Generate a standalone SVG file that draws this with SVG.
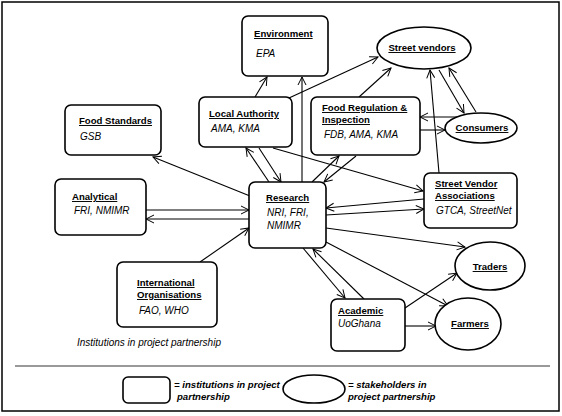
<svg xmlns="http://www.w3.org/2000/svg" width="562" height="416" viewBox="0 0 562 416">
<defs>
<marker id="ah" markerWidth="10" markerHeight="10" refX="9" refY="5" orient="auto" markerUnits="userSpaceOnUse">
<path d="M1,1 L9,5 L1,9" fill="none" stroke="#000" stroke-width="1"/>
</marker>
<style>
.box{fill:#fff;stroke:#000;stroke-width:1.6}
.ell{fill:#fff;stroke:#000;stroke-width:1.6}
.h{font-family:"Liberation Sans",Arial,sans-serif;font-size:9.6px;font-weight:bold;text-decoration:underline;fill:#000}
.it{font-family:"Liberation Sans",Arial,sans-serif;font-size:10px;font-style:italic;fill:#000}
.lg{font-family:"Liberation Sans",Arial,sans-serif;font-size:9.6px;font-style:italic;font-weight:bold;fill:#000}
.c line{stroke:#000;stroke-width:1.1;marker-end:url(#ah)}
</style>
</defs>
<rect x="2" y="2" width="557" height="409" fill="#fff" stroke="#000" stroke-width="1.5"/>

<g id="connectors" class="c">
<line x1="255" y1="97" x2="267" y2="77"/>
<line x1="250" y1="196" x2="153" y2="157"/>
<line x1="146" y1="210" x2="249" y2="210"/>
<line x1="249" y1="219" x2="146" y2="219"/>
<line x1="200" y1="262" x2="249" y2="228"/>
<line x1="269" y1="182" x2="246" y2="148"/>
<line x1="259" y1="148" x2="281" y2="182"/>
<line x1="289" y1="98" x2="378" y2="57"/>
<line x1="273" y1="148" x2="423" y2="191"/>
<line x1="302" y1="182" x2="302" y2="77"/>
<line x1="312" y1="182" x2="339" y2="156"/>
<line x1="356" y1="156" x2="324" y2="182"/>
<line x1="359" y1="97" x2="391" y2="68"/>
<line x1="464" y1="117" x2="420" y2="117"/>
<line x1="420" y1="130" x2="445" y2="130"/>
<line x1="439" y1="70" x2="464" y2="113"/>
<line x1="476" y1="112" x2="449" y2="68"/>
<line x1="439" y1="173" x2="430" y2="70"/>
<line x1="424" y1="199" x2="326" y2="208"/>
<line x1="326" y1="215" x2="424" y2="209"/>
<line x1="326" y1="228" x2="465" y2="247"/>
<line x1="326" y1="242" x2="448" y2="306"/>
<line x1="303" y1="248" x2="345" y2="298"/>
<line x1="364" y1="299" x2="313" y2="249"/>
<line x1="405" y1="308" x2="457" y2="273"/>
<line x1="405" y1="326" x2="436" y2="326"/>
</g>

<g id="environment">
<rect class="box" x="242" y="16" width="86" height="60" rx="6"/>
<text class="h" x="254" y="37">Environment</text>
<text class="it" x="256" y="57">EPA</text>
</g>
<g id="food-standards">
<rect class="box" x="65" y="105" width="96" height="50" rx="6"/>
<text class="h" x="79" y="124">Food Standards</text>
<text class="it" x="80" y="140">GSB</text>
</g>
<g id="local-authority">
<rect class="box" x="199" y="97" width="93" height="50" rx="6"/>
<text class="h" x="209" y="117">Local Authority</text>
<text class="it" x="211" y="132">AMA, KMA</text>
</g>
<g id="food-regulation">
<rect class="box" x="311" y="97" width="109" height="58" rx="6"/>
<text class="h" x="322" y="111">Food Regulation &amp;</text>
<text class="h" x="322" y="123">Inspection</text>
<text class="it" x="324" y="138">FDB, AMA, KMA</text>
</g>
<g id="analytical">
<rect class="box" x="55" y="179" width="91" height="56" rx="6"/>
<text class="h" x="72" y="200">Analytical</text>
<text class="it" x="74" y="214">FRI, NMIMR</text>
</g>
<g id="research">
<rect class="box" x="249" y="182" width="77" height="66" rx="6"/>
<text class="h" x="266" y="201">Research</text>
<text class="it" x="267" y="216">NRI, FRI,</text>
<text class="it" x="267" y="229">NMIMR</text>
</g>
<g id="international">
<rect class="box" x="117" y="262" width="100" height="65" rx="6"/>
<text class="h" x="137" y="286">International </text>
<text class="h" x="137" y="298">Organisations</text>
<text class="it" x="139" y="314">FAO, WHO</text>
</g>
<g id="street-vendor-associations">
<rect class="box" x="424" y="173" width="93" height="55" rx="6"/>
<text class="h" x="435" y="187">Street Vendor </text>
<text class="h" x="435" y="199">Associations</text>
<text class="it" x="436" y="214">GTCA, StreetNet</text>
</g>
<g id="academic">
<rect class="box" x="331" y="299" width="74" height="52" rx="6"/>
<text class="h" x="338" y="314">Academic</text>
<text class="it" x="338" y="327">UoGhana</text>
</g>
<g id="street-vendors">
<ellipse class="ell" cx="424" cy="48" rx="47" ry="21"/>
<text class="h" x="422" y="51" text-anchor="middle">Street vendors</text>
</g>
<g id="consumers">
<ellipse class="ell" cx="481" cy="128" rx="36" ry="15"/>
<text class="h" x="482" y="131" text-anchor="middle">Consumers</text>
</g>
<g id="traders">
<ellipse class="ell" cx="490" cy="266" rx="35" ry="24"/>
<text class="h" x="490" y="270" text-anchor="middle">Traders</text>
</g>
<g id="farmers">
<ellipse class="ell" cx="468" cy="324" rx="33" ry="26"/>
<text class="h" x="470" y="327" text-anchor="middle">Farmers</text>
</g>

<text class="it" x="77" y="346">Institutions in project partnership</text>

<line x1="15" y1="366" x2="550" y2="366" stroke="#999" stroke-width="2"/>
<g id="legend">
<rect class="box" x="123" y="377" width="47" height="26" rx="5"/>
<text class="lg" x="174" y="388">= institutions in project</text>
<text class="lg" x="177" y="400">partnership</text>
<ellipse class="ell" cx="314" cy="389" rx="31" ry="14"/>
<text class="lg" x="348" y="388">= stakeholders in</text>
<text class="lg" x="348" y="400">project partnership</text>
</g>
</svg>
